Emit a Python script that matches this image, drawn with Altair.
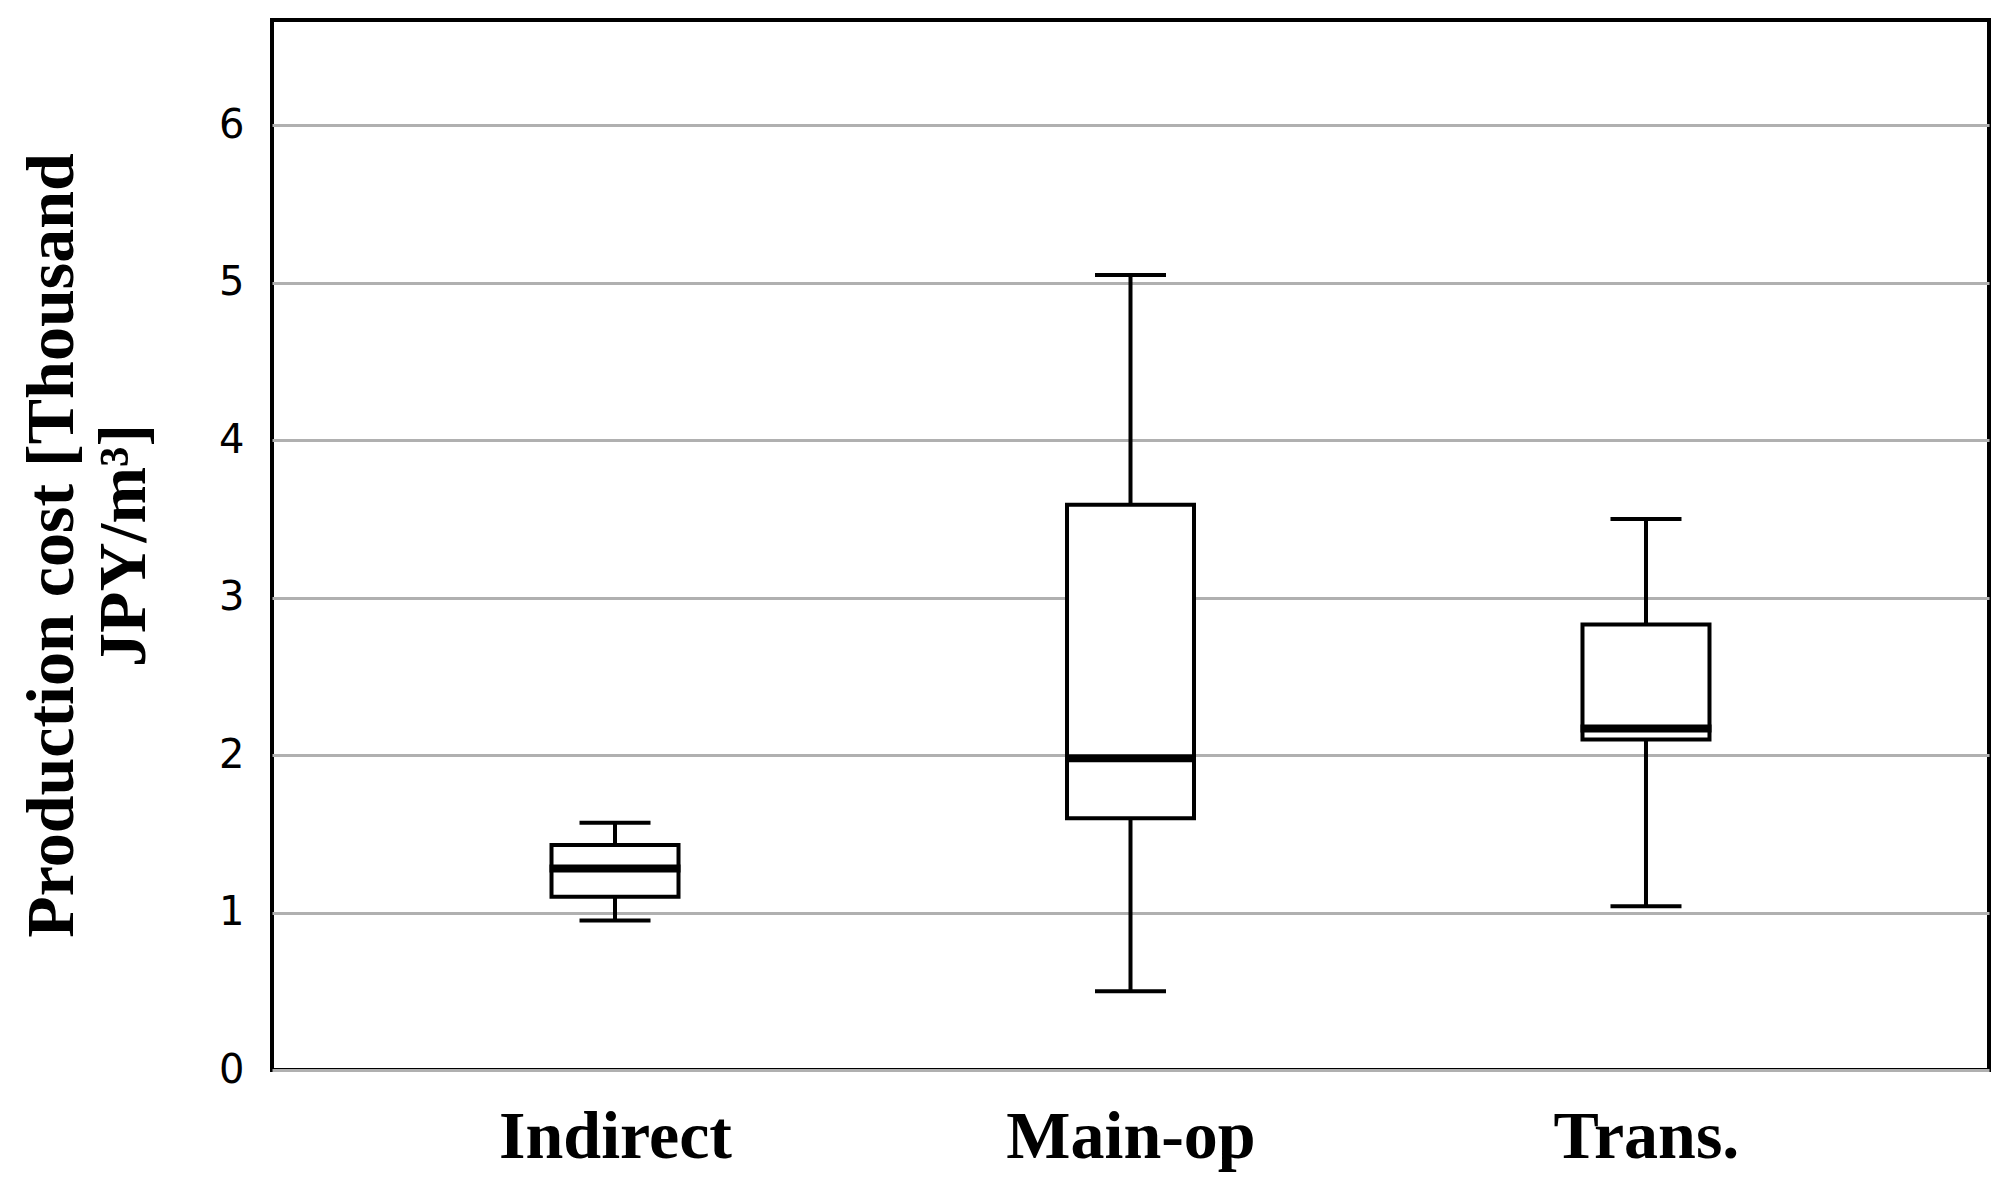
import altair as alt
import pandas as pd

categories = ["Indirect", "Main-op", "Trans."]
whisker_low = [0.95, 0.50, 1.04]
q1 = [1.10, 1.60, 2.10]
median = [1.28, 1.98, 2.17]
q3 = [1.43, 3.59, 2.83]
whisker_high = [1.57, 5.05, 3.50]
y_ticks = [0, 1, 2, 3, 4, 5, 6]

df = pd.DataFrame({
    "cat": categories,
    "lo": whisker_low,
    "q1": q1,
    "med": median,
    "q3": q3,
    "hi": whisker_high,
})

x = alt.X(
    "cat:N",
    sort=categories,
    scale=alt.Scale(type="point", padding=0.6654),
    axis=alt.Axis(
        title=None,
        labelAngle=0,
        labelFont="Liberation Serif",
        labelFontWeight="bold",
        labelFontSize=68,
        labelColor="black",
        labelBaseline="top",
        labelPadding=33,
        labelLimit=0,
        labelOverlap=False,
        ticks=False,
        tickSize=0,
        domain=False,
        grid=False,
    ),
)

yscale = alt.Scale(domain=[0, 6.67], nice=False, zero=True)
yaxis = alt.Axis(
    title=["Production cost [Thousand", "JPY/m³]"],
    titleFont="Liberation Serif",
    titleFontWeight="bold",
    titleFontSize=68,
    titleLineHeight=72,
    titleColor="black",
    titleAngle=270,
    titleBaseline="middle",
    titleAlign="center",
    titleX=-220,
    titleY=525,
    values=y_ticks,
    format="d",
    labelFont="DejaVu Sans",
    labelFontSize=40,
    labelColor="black",
    labelPadding=28,
    ticks=False,
    tickSize=0,
    domain=False,
    grid=True,
    gridColor="#b0b0b0",
    gridWidth=3,
    gridOpacity=1,
)

base = alt.Chart(df)

whisk_lo = base.mark_rule(color="black", strokeWidth=4).encode(
    x=x, y=alt.Y("lo:Q", scale=yscale, axis=yaxis), y2="q1:Q"
)
whisk_hi = base.mark_rule(color="black", strokeWidth=4).encode(
    x=x, y=alt.Y("q3:Q", scale=yscale), y2="hi:Q"
)
cap_lo = base.mark_tick(color="black", size=71, thickness=4, opacity=1).encode(
    x=x, y=alt.Y("lo:Q", scale=yscale)
)
cap_hi = base.mark_tick(color="black", size=71, thickness=4, opacity=1).encode(
    x=x, y=alt.Y("hi:Q", scale=yscale)
)
box = base.mark_bar(size=127, fill="white", stroke="black", strokeWidth=4, opacity=1).encode(
    x=x, y=alt.Y("q1:Q", scale=yscale), y2="q3:Q"
)
med = base.mark_tick(color="black", size=131, thickness=8, opacity=1).encode(
    x=x, y=alt.Y("med:Q", scale=yscale)
)

chart = alt.layer(whisk_lo, whisk_hi, cap_lo, cap_hi, box, med).properties(
    width=1717,
    height=1050,
    autosize=alt.AutoSizeParams(type="none"),
    padding={"left": 264, "top": 12, "right": 9, "bottom": 113},
    background="white",
).configure_view(
    stroke="black",
    strokeWidth=4,
    fill="white",
)

chart.save("out.html", embed_options={"renderer": "svg", "actions": False})
